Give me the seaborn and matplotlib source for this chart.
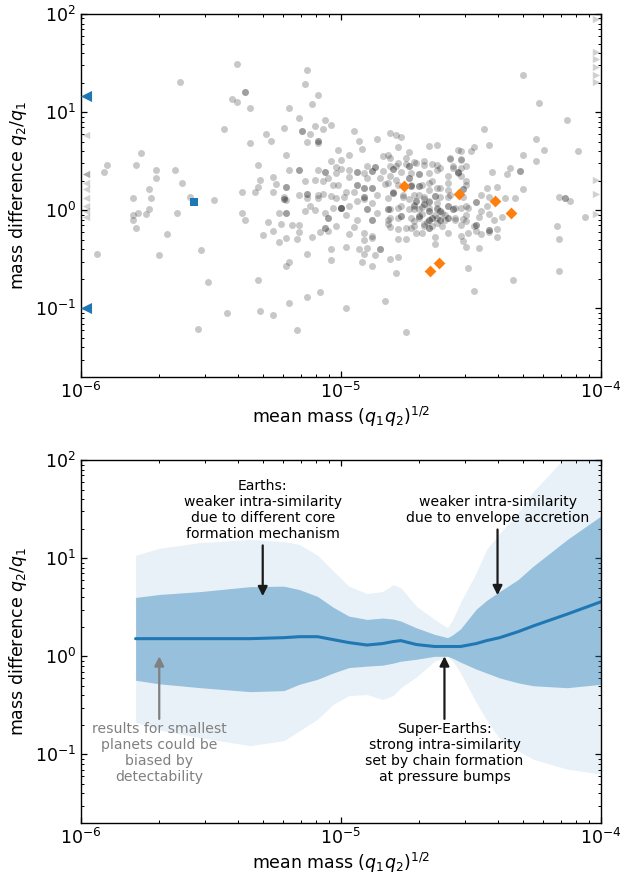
import numpy as np
import matplotlib
matplotlib.use("Agg")
import matplotlib.pyplot as plt
import seaborn as sns

# ---------------------------------------------------------------------------
# Data (log10 values)
# ---------------------------------------------------------------------------
# gray scatter: log10 mean mass, log10 mass ratio
pair_log_mass = [
    -5.62, -5.42, -5.45, -5.77, -5.90, -5.91, -5.79, -5.71, -5.71, -5.64,
    -5.61, -5.74, -5.80, -5.73, -5.58, -5.49, -5.74, -5.78, -5.80, -5.75,
    -5.63, -5.80, -5.79, -5.67, -5.94, -5.70, -5.54, -5.51, -5.44, -5.55,
    -5.40, -5.13, -5.14, -5.37, -5.37, -5.40, -5.35, -5.09, -5.11, -5.20,
    -5.16, -5.06, -5.04, -5.10, -5.07, -5.15, -5.15, -5.12, -5.22, -5.13,
    -5.09, -5.09, -5.09, -5.29, -5.27, -5.35, -5.01, -5.21, -5.32, -5.04,
    -5.02, -5.20, -5.16, -5.16, -5.09, -5.06, -5.06, -5.02, -5.31, -5.32,
    -5.26, -5.25, -5.21, -5.21, -5.14, -5.10, -5.07, -5.05, -5.03, -5.01,
    -5.38, -5.33, -5.26, -5.13, -5.13, -5.09, -5.07, -5.04, -5.22, -5.16,
    -5.02, -5.38, -5.37, -5.28, -5.24, -5.21, -5.21, -5.23, -5.26, -5.30,
    -5.19, -5.16, -5.16, -5.21, -5.24, -5.17, -5.14, -5.12, -5.10, -5.11,
    -5.08, -5.06, -5.06, -5.05, -5.02, -5.05, -5.05, -5.06, -5.04, -5.04,
    -5.13, -5.20, -5.21, -5.32, -5.08, -5.13, -5.20, -5.31, -5.26, -5.17,
    -5.22, -5.22, -5.21, -5.13, -5.09, -5.00, -5.00, -5.03, -4.95, -4.81,
    -4.79, -4.77, -4.93, -4.86, -4.92, -4.97, -4.78, -4.74, -4.66, -4.63,
    -4.82, -4.81, -4.75, -4.55, -4.58, -5.00, -4.90, -4.87, -4.78, -4.74,
    -4.71, -4.68, -4.63, -4.57, -5.00, -4.97, -4.94, -4.91, -4.88, -4.84,
    -4.80, -4.77, -4.73, -4.70, -4.66, -4.63, -4.59, -4.97, -4.90, -4.85,
    -4.81, -4.74, -4.65, -4.94, -4.91, -4.88, -4.83, -4.78, -4.73, -4.70,
    -4.66, -4.62, -4.59, -4.98, -4.95, -4.86, -4.80, -4.76, -4.70, -4.64,
    -4.99, -4.91, -4.82, -4.59, -5.00, -4.98, -4.97, -4.94, -4.94, -4.91,
    -4.90, -4.88, -4.88, -4.86, -4.95, -4.97, -4.91, -4.91, -4.88, -4.88,
    -4.90, -4.85, -4.98, -4.93, -4.91, -4.87, -4.92, -4.88, -4.81, -4.78,
    -4.79, -4.83, -4.98, -4.75, -4.82, -4.81, -4.82, -4.81, -4.78, -4.75,
    -4.78, -4.77, -4.74, -4.74, -4.71, -4.72, -4.70, -4.72, -4.73, -4.69,
    -4.78, -4.75, -4.71, -4.68, -4.66, -4.65, -4.66, -4.63, -4.62, -4.62,
    -4.59, -4.59, -4.57, -4.56, -4.59, -4.64, -4.64, -4.68, -4.54, -4.30,
    -4.24, -4.13, -4.45, -4.25, -4.43, -4.54, -4.50, -4.49, -4.22, -4.09,
    -4.54, -4.30, -4.25, -4.54, -4.55, -4.35, -4.31, -4.36, -4.42, -4.54,
    -4.52, -4.53, -4.44, -4.40, -4.30, -4.46, -4.43, -4.37, -4.33, -4.48,
    -4.52, -4.44, -4.54, -4.46, -4.43, -4.52, -4.53, -4.47, -4.41, -4.38,
    -4.16, -4.14, -4.12, -4.06, -4.48, -4.49, -4.43, -4.40, -4.48, -4.46,
    -4.51, -4.54, -4.43, -4.40, -4.53, -4.52, -4.47, -4.17, -4.16, -4.51,
    -4.34, -4.16, -4.49, -4.84, -4.81, -4.79, -4.75, -4.72, -4.68, -4.65,
    -4.62, -4.58, -4.54, -4.52, -4.57, -4.55, -4.82, -4.79, -4.73, -4.69,
    -4.66, -4.63, -4.59, -4.52, -4.80, -4.76, -4.72, -4.68, -4.66, -4.62,
    -4.58, -4.53, -4.81, -4.77, -4.72, -4.70, -4.66, -4.63, -4.59, -4.56,
    -4.51, -4.82, -4.78, -4.73, -4.70, -4.66, -4.63, -4.60, -4.56, -4.52,
    -4.68, -4.65, -4.61, -4.72,
]
pair_log_ratio = [
    1.31, 1.13, 0.83, 0.58, 0.46, 0.39, 0.46, 0.41, 0.33, 0.41,
    0.28, 0.22, 0.12, 0.12, 0.13, 0.10, 0.01, -0.03, -0.05, -0.04,
    -0.03, -0.10, -0.18, -0.24, -0.45, -0.46, -0.41, -0.73, -1.05, -1.21,
    1.49, 1.43, 1.29, 1.20, 1.20, 1.10, 1.04, 1.17, 1.08, 1.04,
    0.94, 0.92, 0.87, 0.86, 0.83, 0.81, 0.81, 0.78, 0.84, 0.70,
    0.71, 0.71, 0.69, 0.78, 0.71, 0.69, 0.61, 0.56, 0.46, 0.50,
    0.44, 0.41, 0.41, 0.41, 0.41, 0.39, 0.39, 0.38, 0.31, 0.24,
    0.34, 0.27, 0.24, 0.24, 0.30, 0.31, 0.30, 0.33, 0.26, 0.26,
    0.19, 0.19, 0.19, 0.17, 0.17, 0.16, 0.17, 0.15, 0.14, 0.16,
    0.12, -0.03, -0.10, -0.12, -0.03, -0.03, -0.03, -0.14, -0.21, -0.25,
    -0.15, -0.15, -0.22, -0.28, -0.32, -0.29, -0.01, 0.04, 0.00, -0.27,
    -0.22, -0.18, -0.18, -0.21, -0.16, -0.08, -0.08, -0.03, -0.39, -0.51,
    -0.45, -0.53, -0.57, -0.71, -0.83, -0.88, -0.95, -1.03, -1.07, -1.22,
    0.11, 0.11, 0.10, 0.12, 0.12, 0.02, 0.02, 0.02, 0.81, 0.79,
    0.77, 0.75, 0.71, 0.73, 0.62, 0.56, 0.64, 0.59, 0.65, 0.67,
    0.56, 0.53, 0.53, 0.61, 0.52, 0.51, 0.45, 0.44, 0.48, 0.45,
    0.48, 0.46, 0.46, 0.45, 0.42, 0.41, 0.39, 0.38, 0.40, 0.40,
    0.42, 0.39, 0.38, 0.37, 0.38, 0.41, 0.35, 0.34, 0.33, 0.33,
    0.35, 0.33, 0.30, 0.26, 0.23, 0.23, 0.27, 0.26, 0.25, 0.25,
    0.21, 0.23, 0.21, 0.19, 0.19, 0.16, 0.18, 0.14, 0.16, 0.15,
    0.13, 0.13, 0.12, 0.13, 0.02, -0.05, 0.04, 0.09, -0.10, 0.11,
    0.01, 0.07, -0.10, -0.03, -0.17, -0.24, -0.23, -0.30, -0.26, -0.28,
    -0.38, -0.39, -0.37, -0.39, -0.45, -0.46, -0.53, -0.57, -0.50, -0.48,
    -0.64, -0.92, -1.00, -1.24, 0.01, -0.08, -0.14, -0.17, -0.19, -0.18,
    0.02, -0.06, 0.01, 0.11, 0.09, 0.01, -0.06, -0.11, -0.18, -0.23,
    -0.29, -0.29, -0.23, 0.06, -0.01, -0.08, -0.18, 0.07, -0.01, -0.10,
    0.04, -0.08, 0.01, -0.10, -0.23, -0.27, -0.34, 0.11, -0.15, 1.38,
    1.09, 0.92, 0.83, 0.73, 0.67, 0.60, 0.60, 0.64, 0.61, 0.60,
    0.51, 0.56, 0.50, 0.43, 0.39, 0.43, 0.40, 0.37, 0.39, 0.35,
    0.30, 0.22, 0.23, 0.24, 0.22, 0.16, 0.14, 0.12, 0.12, 0.08,
    0.04, 0.04, 0.02, -0.01, -0.04, -0.05, -0.09, -0.07, -0.10, -0.07,
    0.13, 0.12, 0.09, -0.07, -0.15, -0.16, -0.20, -0.19, -0.21, -0.24,
    -0.23, -0.26, -0.22, -0.27, -0.31, -0.37, -0.38, -0.16, -0.29, -0.59,
    -0.71, -0.62, -0.82, 0.55, 0.45, 0.45, 0.47, 0.49, 0.50, 0.47,
    0.43, 0.53, 0.52, 0.45, 0.43, 0.38, 0.28, 0.31, 0.26, 0.26,
    0.28, 0.23, 0.28, 0.26, 0.19, 0.16, 0.16, 0.13, 0.09, 0.13,
    0.16, 0.14, 0.01, 0.04, 0.04, 0.01, 0.02, 0.01, 0.04, 0.02,
    0.02, -0.10, -0.08, -0.08, -0.08, -0.10, -0.08, -0.10, -0.08, -0.11,
    -0.16, -0.16, -0.16, -0.16,
]

# systems sitting on top of each other (the dark spots of the cloud)
stacked_log_mass = [
    -4.87, -4.74, -4.94, -4.88, -4.80, -4.70, -4.74, -4.94, -4.91, -4.88,
    -4.73, -4.70, -4.80, -4.64, -4.91, -5.00, -4.90, -4.88, -4.85, -4.82,
    -4.77, -4.71, -4.70, -4.68, -4.66, -4.65, -4.66, -4.62, -4.62, -4.59,
    -4.57, -4.55, -4.31, -4.53, -4.48, -4.14, -4.48, -4.43, -4.69, -4.67,
    -4.64, -4.61, -4.68, -4.66, -4.63, -4.60, -4.72, -4.69, -4.66, -4.63,
]
stacked_log_ratio = [
    0.44, 0.45, 0.39, 0.40, 0.42, 0.37, 0.33, 0.26, 0.23, 0.23,
    0.25, 0.25, 0.18, 0.15, 0.13, 0.02, 0.01, -0.10, -0.39, 0.01,
    -0.06, 0.09, -0.06, 0.06, -0.01, -0.08, -0.18, -0.01, -0.10, -0.08,
    0.01, 0.39, 0.40, 0.22, 0.08, 0.12, -0.15, -0.20, -0.04, -0.12,
    -0.05, -0.03, -0.14, -0.10, -0.13, -0.05, 0.05, 0.03, 0.08, 0.02,
]

# pairs outside the mass range, shown as arrows on the frame (log10 ratio)
left_edge_log_ratio = [0.77, 0.37, 0.37, 0.28, 0.22, 0.12, 0.04, -0.01, -0.07]
right_edge_log_ratio = [1.95, 1.61, 1.54, 1.46, 1.38, 1.31, 0.31, 0.17, -0.04]
edge_left_mass = 1.05e-6
edge_right_mass = 0.955e-4

# highlighted systems (linear values)
blue_tri_ratio = [14.5, 0.102]
blue_sq_mass = [2.73e-6]
blue_sq_ratio = [1.2]
orange_mass = [1.74e-5, 2.84e-5, 3.92e-5, 4.49e-5, 2.20e-5, 2.39e-5]
orange_ratio = [1.76, 1.47, 1.24, 0.93, 0.24, 0.29]

# bottom panel: running median and spread (log10 values)
band_log_mass = [-5.79, -5.70, -5.54, -5.35, -5.22, -5.16, -5.09, -5.03, -4.97,
                 -4.90, -4.84, -4.80, -4.77, -4.71, -4.64, -4.59, -4.57, -4.54,
                 -4.48, -4.44, -4.39, -4.32, -4.26, -4.13, -4.00]
median_log = [0.18, 0.18, 0.18, 0.18, 0.19, 0.20, 0.20, 0.17, 0.14,
              0.115, 0.13, 0.15, 0.16, 0.12, 0.10, 0.10, 0.10, 0.10,
              0.13, 0.16, 0.19, 0.25, 0.31, 0.43, 0.556]
inner_hi_log = [0.60, 0.63, 0.66, 0.71, 0.715, 0.68, 0.61, 0.50, 0.41,
                0.376, 0.39, 0.38, 0.36, 0.29, 0.224, 0.19, 0.22, 0.28,
                0.48, 0.57, 0.66, 0.78, 0.92, 1.19, 1.43]
inner_lo_log = [-0.244, -0.28, -0.32, -0.36, -0.35, -0.285, -0.234, -0.17, -0.115,
                -0.10, -0.09, -0.07, -0.05, -0.03, 0.0, 0.0, -0.02, -0.06,
                -0.13, -0.17, -0.22, -0.27, -0.30, -0.32, -0.285]
outer_hi_log = [1.03, 1.10, 1.16, 1.19, 1.17, 1.14, 1.03, 0.87, 0.715,
                0.64, 0.66, 0.73, 0.70, 0.51, 0.376, 0.29, 0.376, 0.55,
                0.85, 1.09, 1.25, 1.46, 1.68, 2.05, 2.4]
outer_lo_log = [-0.67, -0.75, -0.83, -0.91, -0.86, -0.76, -0.64, -0.49, -0.40,
                -0.39, -0.44, -0.40, -0.32, -0.21, -0.05, 0.0, -0.05, -0.17,
                -0.47, -0.65, -0.84, -0.96, -1.05, -1.15, -1.20]

BLUE = "#1f77b4"
ORANGE = "#ff7f0e"

sns.set_theme(style="ticks", rc={
    "axes.linewidth": 1.0,
    "axes.edgecolor": "black", "axes.labelcolor": "black", "text.color": "black",
    "xtick.color": "black", "ytick.color": "black",
    "xtick.direction": "in", "ytick.direction": "in",
    "xtick.top": True, "ytick.right": True,
    "xtick.major.size": 4, "ytick.major.size": 4,
    "xtick.minor.size": 2, "ytick.minor.size": 2,
    "xtick.major.width": 0.9, "ytick.major.width": 0.9,
    "xtick.minor.width": 0.7, "ytick.minor.width": 0.7,
    "xtick.labelsize": 12.5, "ytick.labelsize": 12.5,
    "axes.labelsize": 12.5,
})
plt.rcParams["font.family"] = ["DejaVu Sans"]
plt.rcParams["mathtext.fontset"] = "dejavusans"

fig, (ax1, ax2) = plt.subplots(2, 1, figsize=(6.21, 8.75), dpi=100)
fig.subplots_adjust(left=0.1304, right=0.9678, top=0.984, bottom=0.0594, hspace=0.229)

for ax in (ax1, ax2):
    ax.set_xscale("log")
    ax.set_yscale("log")

# ------------------------------- top panel --------------------------------
all_mass = 10 ** np.array(pair_log_mass + stacked_log_mass)
all_ratio = 10 ** np.array(pair_log_ratio + stacked_log_ratio)
sns.scatterplot(x=all_mass, y=all_ratio, color="k", alpha=0.24, s=25, linewidth=0,
                ax=ax1, zorder=2)
sns.scatterplot(x=[edge_left_mass] * len(left_edge_log_ratio),
                y=10 ** np.array(left_edge_log_ratio),
                color="k", alpha=0.2, s=28, marker="<", linewidth=0, ax=ax1, zorder=2)
sns.scatterplot(x=[edge_right_mass] * len(right_edge_log_ratio),
                y=10 ** np.array(right_edge_log_ratio),
                color="k", alpha=0.2, s=28, marker=">", linewidth=0, ax=ax1, zorder=2)
sns.scatterplot(x=[edge_left_mass] * len(blue_tri_ratio), y=blue_tri_ratio,
                color=BLUE, s=64, marker="<", linewidth=0, ax=ax1, zorder=3)
sns.scatterplot(x=blue_sq_mass, y=blue_sq_ratio, color=BLUE, s=40, marker="s",
                linewidth=0, ax=ax1, zorder=3)
sns.scatterplot(x=orange_mass, y=orange_ratio, color=ORANGE, s=36, marker="D",
                linewidth=0, ax=ax1, zorder=3)

# ------------------------------ bottom panel ------------------------------
bx = 10 ** np.array(band_log_mass)
ax2.fill_between(bx, 10 ** np.array(outer_lo_log), 10 ** np.array(outer_hi_log),
                 color=BLUE, alpha=0.1, lw=0)
ax2.fill_between(bx, 10 ** np.array(inner_lo_log), 10 ** np.array(inner_hi_log),
                 color=BLUE, alpha=0.4, lw=0)
sns.lineplot(x=bx, y=10 ** np.array(median_log), color=BLUE, lw=2.2, ax=ax2,
             sort=False, estimator=None)

arrow = dict(arrowstyle="-|>", color="k", lw=1.6, mutation_scale=14,
             shrinkA=0, shrinkB=0)
garrow = dict(arrow, color="gray")
txt = dict(ha="center", va="center", fontsize=10.1, linespacing=1.2, multialignment="center")

ax2.annotate("", xy=(5.0e-6, 4.1), xytext=(5.0e-6, 13.5), arrowprops=arrow)
ax2.text(5.0e-6, 31, "Earths:\nweaker intra-similarity\ndue to different core\nformation mechanism", **txt)

ax2.annotate("", xy=(4.0e-5, 4.2), xytext=(4.0e-5, 19.6), arrowprops=arrow)
ax2.text(4.0e-5, 31, "weaker intra-similarity\ndue to envelope accretion", **txt)

ax2.annotate("", xy=(2.5e-5, 1.0), xytext=(2.5e-5, 0.23), arrowprops=arrow)
ax2.text(2.5e-5, 0.103, "Super-Earths:\nstrong intra-similarity\nset by chain formation\nat pressure bumps", **txt)

ax2.annotate("", xy=(2.0e-6, 1.0), xytext=(2.0e-6, 0.23), arrowprops=garrow)
ax2.text(2.0e-6, 0.103, "results for smallest\nplanets could be\nbiased by\ndetectability", color="gray", **txt)

for ax in (ax1, ax2):
    ax.set_xlim(1e-6, 1e-4)
    ax.set_ylim(0.02, 100)
    ax.set_xlabel(r"mean mass $(q_1q_2)^{1/2}$", labelpad=2)
    ax.set_ylabel(r"mass difference $q_2/q_1$")
    ax.tick_params(which="both", top=True, right=True)

fig.savefig("out.png", dpi=100)
